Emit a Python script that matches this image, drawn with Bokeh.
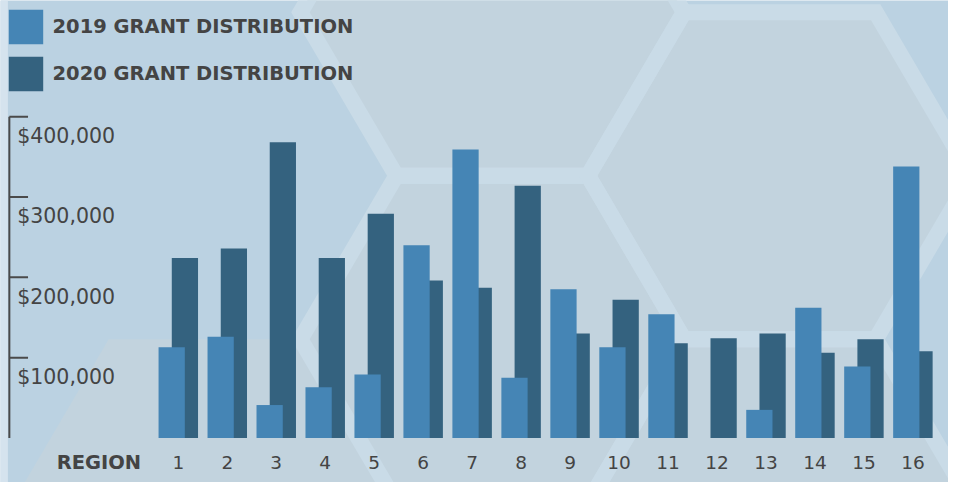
import math
from bokeh.plotting import figure
from bokeh.models import ColumnDataSource, Range1d, Legend, LegendItem
from bokeh.core.properties import value
from bokeh.embed import file_html
from bokeh.resources import INLINE

# ---------------- data ----------------
regions = [str(i) for i in range(1, 17)]
grant_2019 = [113000, 126000, 41000, 63000, 79000, 240000, 359000, 75000,
              185000, 113000, 154000, 0, 35000, 162000, 89000, 338000]
grant_2020 = [224000, 236000, 368000, 224000, 279000, 196000, 187000, 314000,
              130000, 172000, 118000, 124000, 130000, 106000, 123000, 108000]
y_ticks = [100000, 200000, 300000, 400000]
y_tick_labels = ["$100,000", "$200,000", "$300,000", "$400,000"]
x_axis_title = "REGION"
series_names = ["2019 GRANT DISTRIBUTION", "2020 GRANT DISTRIBUTION"]

# ---------------- layout ----------------
W, H = 948, 482            # figure size (fits the window)
RW, RH = 964, 498          # design space in pixels
X0, X1 = -2.6305, 16.727
Y0, Y1 = -55420, 544580
ux = (X1 - X0) / RW   # data units per design pixel (x)
uy = (Y1 - Y0) / RH   # data units per design pixel (y)

def cx(px):  # design pixel -> data x
    return X0 + px * ux

def cy(py):  # design pixel -> data y
    return Y1 - py * uy

BG = "#bbd2e2"
HEX_FILL = "#c2d3de"
HEX_BAND = "#c9dbe7"
STRIP = "#d5e3ee"
C2019 = "#4585b5"
C2020 = "#34627f"
TXT = "#444444"

p = figure(width=W, height=H, output_backend="svg", toolbar_location=None,
           x_range=Range1d(X0, X1), y_range=Range1d(Y0, Y1),
           x_axis_type=None, y_axis_type=None, min_border=0,
           background_fill_color=BG, border_fill_color=BG,
           outline_line_color=None)
p.grid.visible = False

# ---------------- decorative honeycomb ----------------
R = 195.0
hx0, hy0 = 500.0, 350.0
gray_cells = [(0, -2), (0, 0), (1, -1), (1, 1), (-1, 1)]
band_cells = [(0, -2), (0, 0), (1, -1), (1, 1)]

def hex_poly(k, r):
    cxp = hx0 + k * 1.5 * R
    cyp = hy0 + r * (math.sqrt(3) / 2) * R
    xs, ys = [], []
    for a in range(6):
        ang = math.radians(60 * a)
        xs.append(cx(cxp + R * math.cos(ang)))
        ys.append(cy(cyp + R * math.sin(ang)))
    return xs, ys

gx, gy = zip(*[hex_poly(k, r) for k, r in gray_cells])
p.patches(list(gx), list(gy), fill_color=HEX_FILL, line_color=None)
bx, by = zip(*[hex_poly(k, r) for k, r in band_cells])
p.patches(list(bx), list(by), fill_color=None, line_color=HEX_BAND,
          line_width=16, line_join="miter")
# light strip at the far left edge
p.quad(left=[X0], right=[cx(7.5)], bottom=[Y0], top=[Y1],
       fill_color=STRIP, line_color=None)

# ---------------- bars ----------------
xpos = list(range(1, len(regions) + 1))
src = ColumnDataSource(dict(
    x19=[x - 0.135 for x in xpos], x20=[x + 0.135 for x in xpos],
    g19=grant_2019, g20=grant_2020))
r20 = p.vbar(x="x20", top="g20", bottom=0, width=0.536, source=src,
             fill_color=C2020, line_color=None)
r19 = p.vbar(x="x19", top="g19", bottom=0, width=0.536, source=src,
             fill_color=C2019, line_color=None)

# ---------------- y axis (spine, ticks, labels) ----------------
spine_x = cx(9)
p.segment(x0=[spine_x], y0=[0], x1=[spine_x], y1=[max(y_ticks)],
          line_color="#4a4a4a", line_width=2)
p.segment(x0=[spine_x] * len(y_ticks), y0=y_ticks,
          x1=[cx(28)] * len(y_ticks), y1=y_ticks,
          line_color="#4a4a4a", line_width=2)
p.text(x=[cx(17)] * len(y_ticks), y=[t - 20 * uy for t in y_ticks],
       text=y_tick_labels, text_font=value("DejaVu Sans"),
       text_font_size="20.5px", text_color=TXT,
       text_align="left", text_baseline="middle")

# ---------------- x labels ----------------
p.text(x=xpos, y=[cy(477)] * len(xpos), text=regions,
       text_font=value("DejaVu Sans"), text_font_size="18.5px",
       text_color=TXT, text_align="center", text_baseline="middle")
p.text(x=[cx(143)], y=[cy(477)], text=[x_axis_title],
       text_font=value("DejaVu Sans"), text_font_style="bold",
       text_font_size="19.5px", text_color=TXT,
       text_align="right", text_baseline="middle")

# ---------------- legend ----------------
legend = Legend(items=[LegendItem(label=series_names[0], renderers=[r19]),
                       LegendItem(label=series_names[1], renderers=[r20])],
                location=(3.5, 387.5), margin=0, padding=0, spacing=4,
                glyph_width=43, glyph_height=43, label_standoff=6,
                label_text_font="DejaVu Sans", label_text_font_style="bold",
                label_text_font_size="19.5px", label_text_color=TXT,
                background_fill_alpha=0, border_line_alpha=0)
p.add_layout(legend)

open("out.html", "w").write(file_html(p, INLINE))
